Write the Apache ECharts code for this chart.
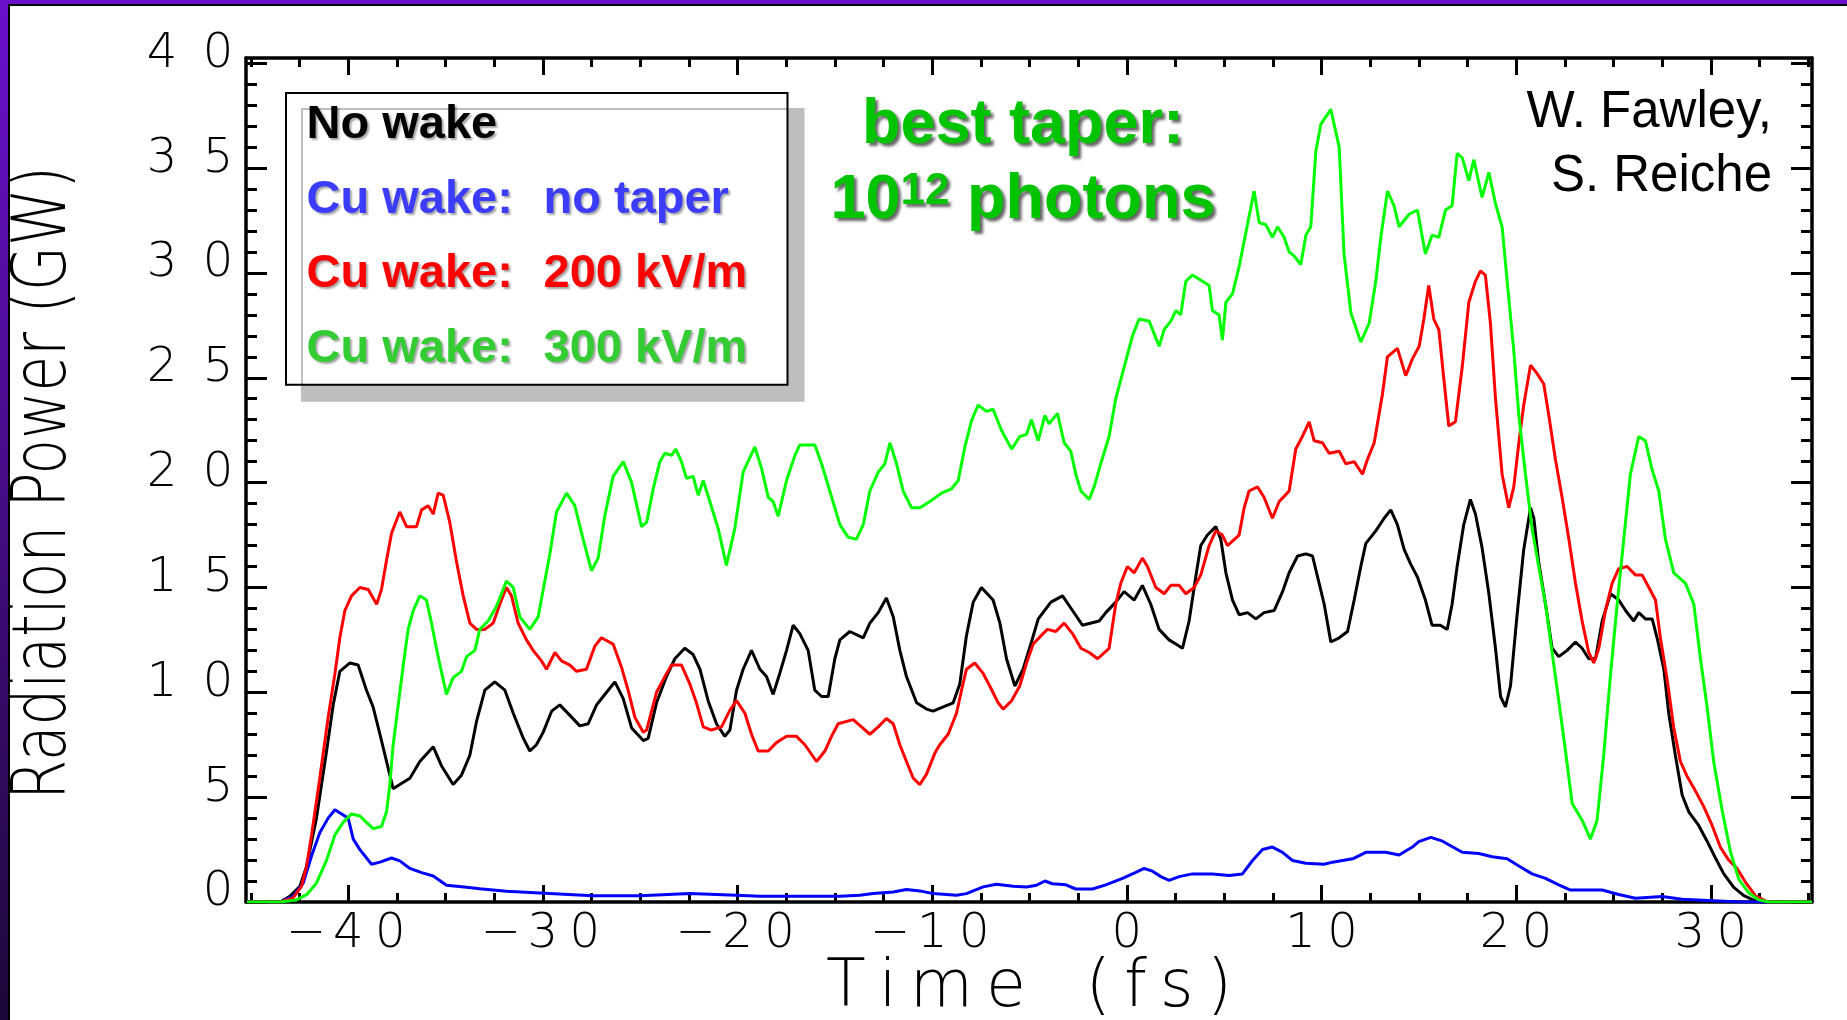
<!DOCTYPE html>
<html>
<head>
<meta charset="utf-8">
<script src="https://cdn.jsdelivr.net/npm/echarts@6/dist/echarts.min.js"></script>
<style>
html,body{margin:0;padding:0;background:#fff;}
#c{width:1847px;height:1020px;}
</style>
</head>
<body>
<div id="c"></div>
<script>
// ---------------- data (time in fs, power in GW) ----------------
const noWake = [[-45.2,0],[-43.5,0],[-43.0,0.27],[-42.48,0.75],[-42.14,1.7],[-41.63,4.0],[-41.11,7.2],[-40.77,9.4],[-40.43,11.0],[-39.91,11.4],[-39.49,11.3],[-39.06,10.1],[-38.72,9.3],[-38.37,8.0],[-37.95,6.4],[-37.69,5.4],[-37.35,5.6],[-36.83,5.9],[-36.32,6.7],[-35.63,7.4],[-35.21,6.5],[-34.61,5.6],[-34.18,6.05],[-33.75,7.0],[-33.41,8.6],[-32.98,10.1],[-32.47,10.5],[-31.95,10.1],[-31.52,9.0],[-31.0,7.8],[-30.67,7.2],[-30.33,7.5],[-29.98,8.1],[-29.55,9.1],[-29.13,9.4],[-28.61,8.9],[-28.1,8.4],[-27.67,8.5],[-27.24,9.4],[-26.9,9.8],[-26.3,10.5],[-25.87,9.7],[-25.44,8.3],[-24.84,7.7],[-24.59,7.8],[-24.16,9.5],[-23.65,10.75],[-23.22,11.6],[-22.71,12.1],[-22.28,11.8],[-21.93,11.1],[-21.51,9.6],[-21.08,8.5],[-20.65,7.9],[-20.39,8.2],[-20.05,10.1],[-19.71,11.1],[-19.28,12.0],[-18.85,11.1],[-18.51,10.75],[-18.17,9.9],[-17.83,10.9],[-17.48,12.0],[-17.14,13.2],[-16.8,12.8],[-16.37,12.0],[-16.03,10.1],[-15.68,9.8],[-15.34,9.8],[-15.0,11.6],[-14.74,12.5],[-14.23,12.9],[-13.54,12.6],[-13.2,13.3],[-12.77,13.8],[-12.35,14.5],[-12.0,13.6],[-11.66,12.0],[-11.32,10.75],[-10.8,9.5],[-10.29,9.2],[-9.95,9.1],[-9.43,9.3],[-8.92,9.5],[-8.58,10.4],[-8.24,12.7],[-7.89,14.3],[-7.47,15.0],[-6.87,14.4],[-6.52,13.3],[-6.18,11.6],[-5.75,10.3],[-5.33,11.1],[-4.9,12.4],[-4.55,13.5],[-3.9,14.3],[-3.3,14.6],[-2.79,13.9],[-2.28,13.2],[-1.42,13.4],[-1.08,13.8],[-0.57,14.3],[-0.14,14.8],[0.38,14.4],[0.8,15.1],[1.23,14.2],[1.66,13.0],[2.17,12.5],[2.52,12.3],[2.86,12.1],[3.2,13.4],[3.54,15.5],[3.8,17.0],[4.14,17.5],[4.57,17.9],[4.83,17.3],[5.09,15.7],[5.43,14.4],[5.77,13.7],[6.2,13.8],[6.63,13.5],[7.05,13.8],[7.57,13.9],[8.0,14.8],[8.34,15.7],[8.77,16.5],[9.2,16.6],[9.54,16.5],[9.88,15.2],[10.14,14.2],[10.48,12.4],[10.91,12.6],[11.34,12.9],[11.68,14.4],[12.02,16.0],[12.28,17.1],[12.79,17.7],[13.22,18.3],[13.56,18.7],[13.9,18.0],[14.25,16.8],[14.59,16.1],[14.93,15.5],[15.34,14.4],[15.68,13.2],[16.11,13.2],[16.46,13.0],[16.71,14.2],[16.97,16.0],[17.31,18.0],[17.65,19.2],[17.91,18.5],[18.25,16.9],[18.6,14.7],[18.94,12.1],[19.2,9.8],[19.45,9.3],[19.71,10.3],[20.05,13.7],[20.39,16.8],[20.74,18.8],[20.91,18.3],[21.16,16.2],[21.51,14.2],[21.85,12.1],[22.19,11.7],[22.62,12.0],[23.05,12.4],[23.39,12.1],[23.73,11.6],[24.08,11.6],[24.42,13.4],[24.85,14.7],[25.27,14.4],[25.62,13.9],[26.04,13.4],[26.3,13.8],[26.64,13.5],[26.99,13.5],[27.24,12.6],[27.59,11.1],[27.84,9.0],[28.18,7.0],[28.53,5.1],[28.87,4.3],[29.38,3.65],[29.81,2.9],[30.24,2.1],[30.67,1.34],[31.18,0.7],[31.7,0.3],[32.29,0.05],[32.6,0],[35.2,0]];

const cuNoTaper = [[-45.2,0],[-43.5,0],[-42.83,0.27],[-42.31,0.9],[-41.88,2.2],[-41.46,3.3],[-41.03,4.0],[-40.68,4.4],[-40.34,4.2],[-40.0,4.0],[-39.74,3.0],[-39.4,2.5],[-38.8,1.8],[-38.37,1.9],[-37.77,2.1],[-37.35,1.96],[-36.83,1.6],[-36.23,1.4],[-35.63,1.24],[-34.95,0.8],[-33.92,0.7],[-33.24,0.63],[-31.87,0.51],[-30.15,0.43],[-28.44,0.35],[-27.41,0.3],[-25.0,0.3],[-22.45,0.4],[-20.05,0.32],[-18.85,0.27],[-14.74,0.27],[-13.72,0.32],[-13.03,0.4],[-12.0,0.48],[-11.32,0.6],[-10.63,0.53],[-9.95,0.4],[-8.75,0.32],[-8.24,0.4],[-7.38,0.72],[-6.7,0.85],[-5.84,0.75],[-5.15,0.72],[-4.64,0.8],[-4.21,1.0],[-3.82,0.87],[-3.13,0.82],[-2.62,0.62],[-1.76,0.62],[-1.08,0.82],[-0.22,1.13],[0.46,1.41],[0.89,1.6],[1.32,1.47],[1.75,1.21],[2.17,1.03],[2.69,1.21],[3.37,1.34],[4.4,1.34],[5.26,1.26],[5.94,1.34],[6.46,1.98],[6.97,2.5],[7.48,2.62],[8.0,2.37],[8.51,1.98],[9.2,1.85],[10.14,1.8],[10.57,1.9],[11.6,2.06],[12.28,2.37],[13.3,2.37],[13.99,2.24],[14.67,2.62],[15.0,2.88],[15.62,3.08],[16.22,2.9],[17.23,2.37],[18.08,2.31],[18.77,2.16],[19.54,2.06],[20.14,1.72],[20.82,1.34],[21.51,1.13],[22.19,0.82],[22.79,0.57],[24.42,0.57],[25.27,0.36],[26.13,0.18],[27.5,0.26],[28.53,0.13],[30.41,0.05],[31.5,0],[35.2,0]];

const cu200 = [[-45.2,0],[-43.5,0],[-42.83,0.2],[-42.4,0.75],[-42.14,1.7],[-41.88,3.2],[-41.46,5.9],[-41.03,8.8],[-40.68,10.9],[-40.43,12.6],[-40.17,13.9],[-39.83,14.6],[-39.4,15.0],[-38.97,14.9],[-38.54,14.2],[-38.29,14.9],[-38.03,16.3],[-37.77,17.6],[-37.35,18.6],[-37.0,17.9],[-36.49,17.9],[-36.23,18.7],[-35.89,18.9],[-35.63,18.5],[-35.38,19.5],[-35.12,19.4],[-34.78,18.1],[-34.43,16.2],[-34.09,14.6],[-33.75,13.3],[-33.41,13.0],[-32.98,13.0],[-32.55,13.3],[-32.21,14.2],[-31.87,15.0],[-31.61,14.6],[-31.27,13.3],[-30.84,12.5],[-30.5,12.0],[-30.07,11.5],[-29.81,11.1],[-29.38,11.9],[-29.04,11.5],[-28.61,11.3],[-28.27,11.0],[-27.76,11.1],[-27.33,12.2],[-26.99,12.6],[-26.39,12.3],[-25.96,11.2],[-25.62,10.1],[-25.27,8.8],[-24.84,8.1],[-24.67,8.2],[-24.16,10.0],[-23.73,10.75],[-23.39,11.3],[-22.88,11.3],[-22.45,10.4],[-22.11,9.5],[-21.76,8.35],[-21.34,8.2],[-20.82,8.35],[-20.39,9.15],[-20.05,9.6],[-19.62,9.0],[-19.28,8.0],[-18.94,7.2],[-18.42,7.2],[-18.0,7.6],[-17.48,7.9],[-16.97,7.9],[-16.54,7.5],[-15.94,6.7],[-15.51,7.2],[-15.17,7.9],[-14.83,8.5],[-14.06,8.7],[-13.63,8.35],[-13.2,8.0],[-12.77,8.35],[-12.35,8.75],[-12.0,8.5],[-11.66,7.5],[-11.32,6.7],[-10.97,5.9],[-10.63,5.6],[-10.29,6.1],[-9.86,7.1],[-9.61,7.5],[-9.18,8.0],[-8.75,9.0],[-8.49,10.1],[-8.24,11.1],[-7.81,11.4],[-7.38,10.9],[-7.04,10.3],[-6.61,9.5],[-6.35,9.2],[-5.92,9.6],[-5.5,10.3],[-5.15,11.4],[-4.81,12.3],[-4.3,12.8],[-4.08,13.0],[-3.65,12.9],[-3.22,13.3],[-2.79,12.8],[-2.36,12.1],[-1.93,11.9],[-1.5,11.6],[-0.91,12.1],[-0.57,14.2],[-0.31,15.2],[0.03,16.0],[0.38,15.7],[0.8,16.4],[1.06,16.0],[1.49,15.0],[1.92,14.7],[2.26,15.1],[2.69,15.1],[3.03,14.7],[3.46,15.0],[3.8,15.6],[4.23,17.0],[4.57,17.7],[4.91,17.5],[5.17,17.0],[5.77,17.5],[6.03,18.8],[6.28,19.6],[6.71,19.8],[7.05,19.3],[7.48,18.3],[7.83,19.1],[8.34,19.6],[8.68,21.6],[9.02,22.2],[9.37,22.9],[9.62,22.0],[10.05,21.9],[10.39,21.4],[10.91,21.5],[11.25,20.9],[11.68,21.0],[12.11,20.4],[12.36,21.1],[12.71,21.9],[13.13,24.2],[13.39,26.0],[13.9,26.4],[14.33,25.1],[14.67,25.9],[15.02,26.5],[15.26,27.8],[15.51,29.4],[15.77,27.8],[16.03,27.3],[16.28,25.0],[16.54,22.7],[16.88,22.9],[17.23,25.5],[17.57,28.6],[17.91,29.6],[18.17,30.1],[18.42,29.9],[18.68,27.6],[18.94,24.0],[19.28,20.4],[19.62,18.8],[19.88,19.8],[20.14,21.9],[20.39,23.7],[20.74,25.6],[21.08,25.2],[21.42,24.7],[21.68,23.2],[22.02,21.1],[22.36,19.3],[22.71,17.3],[23.05,15.2],[23.39,13.4],[23.73,11.9],[23.99,11.4],[24.25,12.1],[24.59,13.9],[24.93,15.2],[25.27,15.9],[25.7,16.0],[26.13,15.6],[26.47,15.6],[26.82,15.0],[27.16,14.4],[27.41,12.6],[27.76,10.6],[28.1,8.3],[28.44,6.7],[28.78,6.0],[29.21,5.3],[29.64,4.55],[30.07,3.65],[30.5,2.6],[30.92,2.0],[31.35,1.6],[31.78,0.95],[32.29,0.3],[32.81,0.05],[33.0,0],[35.2,0]];

const cu300 = [[-45.2,0],[-43.5,0],[-42.65,0.1],[-42.14,0.35],[-41.63,0.9],[-41.11,2.0],[-40.68,3.2],[-40.26,3.8],[-39.83,4.2],[-39.4,4.1],[-39.06,3.8],[-38.72,3.5],[-38.29,3.6],[-38.03,4.3],[-37.86,5.6],[-37.69,7.5],[-37.43,9.4],[-37.17,11.3],[-36.92,13.0],[-36.66,13.9],[-36.32,14.6],[-35.98,14.4],[-35.72,13.3],[-35.38,11.7],[-34.95,9.9],[-34.61,10.7],[-34.18,11.0],[-33.92,11.7],[-33.49,12.0],[-33.24,13.0],[-32.81,13.4],[-32.38,14.1],[-31.87,15.3],[-31.52,15.0],[-31.18,13.6],[-30.67,13.0],[-30.24,13.6],[-29.98,14.9],[-29.64,16.6],[-29.3,18.6],[-28.78,19.5],[-28.36,18.9],[-27.93,17.3],[-27.5,15.8],[-27.16,16.4],[-26.82,18.4],[-26.39,20.3],[-25.87,21.0],[-25.44,20.0],[-24.93,17.9],[-24.67,18.1],[-24.33,19.7],[-23.99,21.0],[-23.73,21.4],[-23.39,21.3],[-23.17,21.6],[-22.88,21.0],[-22.62,20.2],[-22.28,20.3],[-22.02,19.4],[-21.76,20.1],[-21.42,19.1],[-20.99,17.8],[-20.57,16.05],[-20.14,17.8],[-19.71,20.5],[-19.11,21.7],[-18.77,20.7],[-18.42,19.3],[-18.17,19.1],[-17.91,18.4],[-17.48,20.1],[-17.05,21.3],[-16.8,21.8],[-16.03,21.8],[-15.68,20.9],[-15.26,19.6],[-14.74,18.0],[-14.32,17.4],[-13.89,17.3],[-13.54,18.0],[-13.2,19.6],[-12.77,20.5],[-12.43,20.9],[-12.17,21.9],[-11.83,20.9],[-11.49,19.6],[-11.06,18.8],[-10.63,18.8],[-10.12,19.1],[-9.52,19.5],[-9.01,19.7],[-8.66,20.1],[-8.32,21.7],[-7.98,22.95],[-7.64,23.7],[-7.21,23.4],[-6.87,23.5],[-6.44,22.5],[-5.92,21.6],[-5.5,22.2],[-5.15,22.3],[-4.9,23.0],[-4.55,22.0],[-4.21,23.2],[-3.99,22.8],[-3.56,23.3],[-3.22,21.9],[-2.88,21.5],[-2.62,20.4],[-2.36,19.6],[-1.93,19.2],[-1.68,19.8],[-1.34,20.9],[-0.91,22.2],[-0.57,24.0],[-0.14,25.5],[0.29,27.0],[0.63,27.8],[1.15,27.7],[1.66,26.5],[1.92,27.3],[2.26,27.7],[2.52,28.2],[2.77,28.0],[3.03,29.6],[3.37,29.9],[3.89,29.6],[4.23,29.4],[4.4,28.2],[4.74,28.0],[4.91,26.8],[5.09,28.6],[5.43,29.0],[5.77,30.3],[6.11,31.9],[6.54,33.9],[6.8,32.4],[7.14,32.3],[7.48,31.7],[7.74,32.2],[8.08,31.7],[8.34,31.0],[8.6,30.8],[8.94,30.4],[9.2,31.8],[9.45,32.2],[9.71,35.8],[9.97,37.1],[10.48,37.8],[10.91,36.0],[11.16,30.9],[11.51,28.1],[12.02,26.7],[12.45,27.6],[12.79,29.6],[13.05,31.7],[13.39,33.9],[13.73,33.2],[13.99,32.2],[14.5,32.8],[14.93,33.0],[15.34,30.9],[15.68,31.8],[16.03,31.7],[16.37,33.0],[16.71,33.2],[16.97,35.7],[17.23,35.5],[17.57,34.4],[17.83,35.4],[18.25,33.6],[18.6,34.8],[18.94,33.3],[19.28,32.2],[19.54,29.6],[19.88,26.3],[20.14,23.2],[20.48,20.4],[20.82,17.8],[21.16,16.0],[21.51,14.2],[21.85,11.9],[22.19,9.6],[22.53,7.25],[22.88,4.7],[23.39,3.9],[23.82,3.0],[24.16,3.9],[24.5,7.0],[24.85,10.85],[25.19,14.2],[25.53,17.3],[25.87,20.4],[26.3,22.2],[26.64,22.0],[26.99,20.6],[27.33,19.6],[27.67,17.3],[28.1,15.7],[28.7,15.2],[29.13,14.2],[29.47,11.6],[29.81,9.3],[30.15,6.7],[30.58,4.4],[31.01,2.4],[31.44,1.08],[31.95,0.44],[32.47,0.1],[32.98,0],[35.2,0]];

// ---------------- ticks and labels ----------------
const xMajorTicks = [-40, -30, -20, -10, 0, 10, 20, 30];
const xMinorTicks = [-45, -42.5, -37.5, -35, -32.5, -27.5, -25, -22.5, -17.5, -15, -12.5, -7.5, -5, -2.5, 2.5, 5, 7.5, 12.5, 15, 17.5, 22.5, 25, 27.5, 32.5, 35];
const yMajorTicks = [0, 5, 10, 15, 20, 25, 30, 35, 40];
const yMinorTicks = [1, 2, 3, 4, 6, 7, 8, 9, 11, 12, 13, 14, 16, 17, 18, 19, 21, 22, 23, 24, 26, 27, 28, 29, 31, 32, 33, 34, 36, 37, 38, 39];

const seriesNames = ['No wake', 'Cu wake:  no taper', 'Cu wake:  200 kV/m', 'Cu wake:  300 kV/m'];
const lineColors = ['#000000', '#0000ff', '#ff0000', '#00ff00'];
const legendColors = ['#000000', '#3c3cff', '#ff0000', '#33cc33'];

const xTitle = 'Time (fs)';
const yTitle = 'Radiation Power (GW)';

// ---------------- chart ----------------
const X_MIN = -45.25, X_MAX = 35.2, Y_MIN = 0, Y_MAX = 40.25;
const AX_FONT = '"DejaVu Sans", sans-serif';

const spread = v => {
  const s = (v < 0 ? '\u2212' : '') + Math.abs(v);
  return s.split('').map(ch => '{d|' + ch + '}').join('');
};
const xDigitRich = { d: { width: 42, align: 'center', fontSize: 48, lineHeight: 48, fontFamily: AX_FONT, fontWeight: 200, color: '#000' } };
const yDigitRich = { d: { width: 56, align: 'center', fontSize: 48, lineHeight: 48, fontFamily: AX_FONT, fontWeight: 200, color: '#000' } };

function ax(kind, position, ticks, len, lineShow, label) {
  const o = {
    type: 'value', position: position,
    min: kind === 'x' ? X_MIN : Y_MIN, max: kind === 'x' ? X_MAX : Y_MAX,
    splitLine: { show: false },
    axisLine: { show: lineShow, onZero: false, lineStyle: { color: '#000', width: 3.5 } },
    axisTick: { show: true, inside: true, length: len, customValues: ticks, lineStyle: { color: '#000', width: 3 } },
    axisLabel: { show: false },
    axisPointer: { show: false }
  };
  if (label) o.axisLabel = label;
  return o;
}

const xLabel = { show: true, customValues: xMajorTicks, formatter: spread, margin: 9, rich: xDigitRich, fontSize: 48, fontFamily: AX_FONT };
const yLabel = { show: true, customValues: yMajorTicks, formatter: spread, margin: 0, padding: [0, 0, 18, 0], rich: yDigitRich, fontSize: 48, fontFamily: AX_FONT };

const xBottom = ax('x', 'bottom', xMajorTicks, 17, true, xLabel);
xBottom.name = xTitle.split('').map(c => c === ' ' ? ' \u2009' : c).join('\u2009');
xBottom.nameLocation = 'middle';
xBottom.nameGap = 55;
xBottom.nameMoveOverlap = false;
xBottom.nameTextStyle = { fontFamily: AX_FONT, fontWeight: 200, fontSize: 65, color: '#000' };

const legendRich = {};
['k', 'b', 'r', 'g'].forEach((key, i) => {
  const base = { color: legendColors[i], fontSize: 47, lineHeight: 47, fontWeight: 'bold', fontFamily: '"Liberation Sans", Arial, sans-serif',
    textShadowColor: 'rgba(0,0,0,0.35)', textShadowOffsetX: 2, textShadowOffsetY: 2, textShadowBlur: 2 };
  legendRich[key + 'a'] = Object.assign({ width: 237 }, base);
  legendRich[key + 'b'] = Object.assign({ width: 206 }, base);
  legendRich[key + 'w'] = Object.assign({ width: 443 }, base);
});
const legendKey = ['k', 'b', 'r', 'g'];

const option = {
  animation: false,
  backgroundColor: '#ffffff',
  grid: { left: 246, right: 35, top: 58, bottom: 118, containLabel: false, outerBoundsMode: 'none' },
  xAxis: [
    xBottom,
    ax('x', 'bottom', xMinorTicks, 9, false),
    ax('x', 'top', xMajorTicks, 17, true),
    ax('x', 'top', xMinorTicks, 9, false)
  ],
  yAxis: [
    ax('y', 'left', yMajorTicks, 21, true, yLabel),
    ax('y', 'left', yMinorTicks, 11, false),
    ax('y', 'right', yMajorTicks, 21, true),
    ax('y', 'right', yMinorTicks, 11, false)
  ],
  legend: {
    left: 286, top: 93, orient: 'vertical',
    padding: [8.5, 38, 12.5, 15.5],
    itemGap: 27.6, itemWidth: 0, itemHeight: 0, icon: 'none',
    selectedMode: false,
    backgroundColor: '#ffffff', borderColor: '#000000', borderWidth: 2,
    shadowColor: '#bebebe', shadowOffsetX: 16, shadowOffsetY: 16, shadowBlur: 0,
    data: seriesNames.map((n, i) => ({ name: n, icon: 'none', textStyle: { color: legendColors[i] } })),
    textStyle: { fontSize: 47, fontWeight: 'bold', fontFamily: '"Liberation Sans", Arial, sans-serif', rich: legendRich },
    formatter: name => {
      const i = seriesNames.indexOf(name);
      const k = legendKey[i];
      const parts = name.split(':');
      if (parts.length < 2) return '{' + k + 'w|' + name + '}';
      return '{' + k + 'a|' + parts[0] + ':}{' + k + 'b|' + parts[1].trim() + '}';
    }
  },
  series: [
    { name: seriesNames[0], type: 'line', data: noWake, showSymbol: false, symbol: 'none', lineStyle: { color: lineColors[0], width: 3 }, itemStyle: { color: lineColors[0] }, z: 2 },
    { name: seriesNames[1], type: 'line', data: cuNoTaper, showSymbol: false, symbol: 'none', lineStyle: { color: lineColors[1], width: 3 }, itemStyle: { color: lineColors[1] }, z: 2 },
    { name: seriesNames[2], type: 'line', data: cu200, showSymbol: false, symbol: 'none', lineStyle: { color: lineColors[2], width: 3 }, itemStyle: { color: lineColors[2] }, z: 2 },
    { name: seriesNames[3], type: 'line', data: cu300, showSymbol: false, symbol: 'none', lineStyle: { color: lineColors[3], width: 3 }, itemStyle: { color: lineColors[3] }, z: 2 }
  ],
  graphic: [
    // slide frame
    { type: 'rect', silent: true, z: 0, shape: { x: 0, y: 0, width: 1847, height: 4 }, style: { fill: '#6a10c8' } },
    { type: 'rect', silent: true, z: 0, shape: { x: 0, y: 0, width: 8, height: 1020 },
      style: { fill: new echarts.graphic.LinearGradient(0, 0, 0, 1, [{ offset: 0, color: '#6a10cc' }, { offset: 1, color: '#1c0838' }]) } },
    { type: 'rect', silent: true, z: 0, shape: { x: 8, y: 4, width: 2, height: 1016 }, style: { fill: '#000' } },
    { type: 'rect', silent: true, z: 0, shape: { x: 8, y: 4, width: 1839, height: 2 }, style: { fill: '#000' } },
    // y axis title
    { type: 'text', silent: true, x: 45, y: 483, rotation: Math.PI / 2, scaleY: 1.3,
      style: { text: yTitle, font: '200 58px "DejaVu Sans", sans-serif', fill: '#000', align: 'center', verticalAlign: 'middle' } },
    // annotations
    { type: 'text', silent: true, x: 1023, y: 126, z: 10,
      style: { text: 'best taper:', font: 'bold 63px "Liberation Sans", Arial, sans-serif', fill: '#00c400', align: 'center', verticalAlign: 'middle',
        textShadowColor: 'rgba(0,0,0,0.6)', textShadowOffsetX: 3, textShadowOffsetY: 3, textShadowBlur: 3 } },
    { type: 'text', silent: true, x: 1023, y: 201, z: 10,
      style: { text: '{m|10}{s|12}{m| photons}', align: 'center', verticalAlign: 'middle', fill: '#00c400',
        textShadowColor: 'rgba(0,0,0,0.6)', textShadowOffsetX: 3, textShadowOffsetY: 3, textShadowBlur: 3,
        rich: {
          m: { font: 'bold 63px "Liberation Sans", Arial, sans-serif', lineHeight: 63, fill: '#00c400', textShadowColor: 'rgba(0,0,0,0.6)', textShadowOffsetX: 3, textShadowOffsetY: 3, textShadowBlur: 3 },
          s: { font: 'bold 44px "Liberation Sans", Arial, sans-serif', lineHeight: 44, verticalAlign: 'top', fill: '#00c400', textShadowColor: 'rgba(0,0,0,0.6)', textShadowOffsetX: 3, textShadowOffsetY: 3, textShadowBlur: 3 }
        } } },
    { type: 'text', silent: true, x: 1772, y: 113, z: 10,
      style: { text: 'W. Fawley,', font: '51px "Liberation Sans", Arial, sans-serif', fill: '#000', align: 'right', verticalAlign: 'middle' } },
    { type: 'text', silent: true, x: 1772, y: 177, z: 10,
      style: { text: 'S. Reiche', font: '51px "Liberation Sans", Arial, sans-serif', fill: '#000', align: 'right', verticalAlign: 'middle' } }
  ]
};

const chart = echarts.init(document.getElementById('c'), null, { renderer: 'canvas' });
chart.setOption(option);
</script>
</body>
</html>
